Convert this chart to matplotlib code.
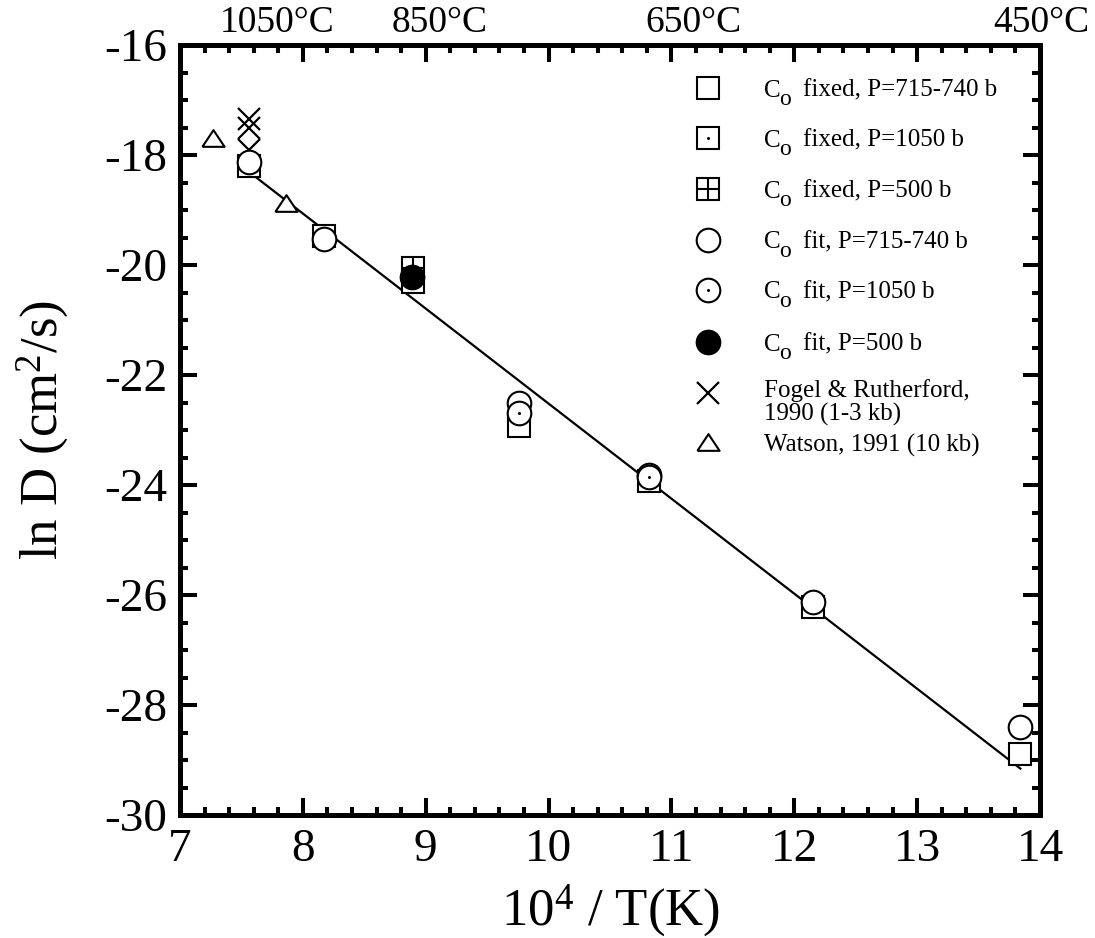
import matplotlib
matplotlib.use("Agg")
import matplotlib.pyplot as plt
from matplotlib.ticker import MultipleLocator
from matplotlib.transforms import blended_transform_factory
import numpy as np

plt.rcParams['font.family'] = ['Liberation Serif', 'DejaVu Serif']
plt.rcParams['mathtext.fontset'] = 'custom'
plt.rcParams['mathtext.rm'] = 'Liberation Serif'
plt.rcParams['mathtext.it'] = 'Liberation Serif:italic'
plt.rcParams['axes.unicode_minus'] = False

# ---- data: x = 10^4 / T(K), y = ln D (cm^2/s) ----
fixed_715_x = [7.56, 8.17, 8.90, 9.76, 12.15, 13.84]
fixed_715_y = [-18.20, -19.48, -20.30, -22.93, -26.22, -28.89]

fixed_1050_x = [10.82]
fixed_1050_y = [-23.93]

fixed_500_x = [8.90]
fixed_500_y = [-20.05]

fit_715_x = [7.56, 8.17, 9.76, 10.82, 12.15, 13.84]
fit_715_y = [-18.13, -19.53, -22.51, -23.82, -26.13, -28.40]

fit_1050_x = [9.76, 10.82]
fit_1050_y = [-22.69, -23.86]

fit_500_x = [8.89]
fit_500_y = [-20.22]

fogel_x = [7.56, 7.56, 7.56]
fogel_y = [-17.35, -17.50, -17.90]

watson_x = [7.27, 7.86]
watson_y = [-17.69, -18.87]

# Arrhenius fit: ln D = a + b * (10^4/T)
fit_a = -5.24
fit_b = -1.728
fit_xrange = [7.56, 13.84]

celsius_labels = ['1050\u00b0C', '850\u00b0C', '650\u00b0C', '450\u00b0C']
celsius_label_x = [7.79, 9.11, 11.18, 14.01]

# legend entries: (has C_o prefix, remaining text)
legend_entries = [
    (True, 'fixed, P=715-740 b'),
    (True, 'fixed, P=1050 b'),
    (True, 'fixed, P=500 b'),
    (True, 'fit, P=715-740 b'),
    (True, 'fit, P=1050 b'),
    (True, 'fit, P=500 b'),
    (False, 'Fogel & Rutherford,\n1990 (1-3 kb)'),
    (False, 'Watson, 1991 (10 kb)'),
]

# ---- styles ----
SQ = 15.8
CI = 17.0
EW = 1.5
tri_marker = [(-1, -0.75), (1, -0.75), (0, 0.75), (-1, -0.75)]

styles = {
    'fixed_715': [dict(marker='s', ms=SQ, mfc='white', mec='black', mew=EW)],
    'fixed_1050': [dict(marker='s', ms=SQ, mfc='white', mec='black', mew=EW),
                   dict(marker='o', ms=2.2, mfc='black', mec='black', mew=0)],
    'fixed_500': [dict(marker='s', ms=SQ, mfc='white', mec='black', mew=EW),
                  dict(marker='+', ms=SQ, mec='black', mew=EW)],
    'fit_715': [dict(marker='o', ms=CI, mfc='white', mec='black', mew=EW)],
    'fit_1050': [dict(marker='o', ms=CI, mfc='white', mec='black', mew=EW),
                 dict(marker='o', ms=2.2, mfc='black', mec='black', mew=0)],
    'fit_500': [dict(marker='o', ms=CI, mfc='black', mec='black', mew=EW)],
    'fogel': [dict(marker='x', ms=16, mec='black', mew=1.6)],
    'watson': [dict(marker=tri_marker, ms=16, mfc='white', mec='black', mew=EW)],
}

fig = plt.figure(figsize=(10.95, 9.38), dpi=100)
ax = fig.add_axes([0.1644, 0.1311, 0.7854, 0.8209])

# fitted line
lx = np.array(fit_xrange)
ax.plot(lx, fit_a + fit_b * lx, color='black', lw=1.6, zorder=2)

series = [
    ('fogel', fogel_x, fogel_y),
    ('watson', watson_x, watson_y),
    ('fixed_715', fixed_715_x, fixed_715_y),
    ('fixed_1050', fixed_1050_x, fixed_1050_y),
    ('fixed_500', fixed_500_x, fixed_500_y),
    ('fit_715', fit_715_x, fit_715_y),
    ('fit_1050', fit_1050_x, fit_1050_y),
    ('fit_500', fit_500_x, fit_500_y),
]
z = 3
for key, xs, ys in series:
    for st in styles[key]:
        ax.plot(xs, ys, ls='none', zorder=z, **st)
        z += 0.1

ax.set_xlim(7, 14)
ax.set_ylim(-30, -16)
ax.xaxis.set_major_locator(MultipleLocator(1))
ax.xaxis.set_minor_locator(MultipleLocator(0.2))
ax.yaxis.set_major_locator(MultipleLocator(2))
ax.yaxis.set_minor_locator(MultipleLocator(0.5))
ax.tick_params(which='both', direction='in', top=True, right=True,
               labelsize=34, width=2.9)
ax.tick_params(which='major', length=12, pad=10)
ax.tick_params(which='minor', length=6)
ax.tick_params(axis='y', pad=9)
for sp in ax.spines.values():
    sp.set_linewidth(3.6)

ax.set_xlabel(r'10$^{4}$ / T(K)', fontsize=38, labelpad=8)
ax.set_ylabel(r'ln D (cm$^{2}$/s)', fontsize=38, labelpad=24)

# temperature labels along the top
trans = blended_transform_factory(ax.transData, ax.transAxes)
for lab, xv in zip(celsius_labels, celsius_label_x):
    ax.text(xv, 1.006, lab, transform=trans, ha='center', va='bottom',
            fontsize=27, clip_on=False)

# legend
legend_keys = ['fixed_715', 'fixed_1050', 'fixed_500', 'fit_715',
               'fit_1050', 'fit_500', 'fogel', 'watson']
row_y = [0.944, 0.879, 0.813, 0.747, 0.682, 0.614, 0.548, 0.484]
mark_x = 0.614
text_x = 0.6795
LFS = 18
for key, (has_c, lab), ry in zip(legend_keys, legend_entries, row_y):
    for st in styles[key]:
        ax.plot([mark_x], [ry], ls='none', transform=ax.transAxes,
                clip_on=False, zorder=6, **st)
    if has_c:
        ax.annotate('C', xy=(text_x, ry), xycoords='axes fraction',
                    ha='left', va='center_baseline', fontsize=LFS)
        ax.annotate('o', xy=(text_x, ry), xycoords='axes fraction',
                    xytext=(10.8, -6.5), textcoords='offset points',
                    ha='left', va='center_baseline', fontsize=LFS - 1)
        ax.annotate(lab, xy=(text_x, ry), xycoords='axes fraction',
                    xytext=(28.0, 0), textcoords='offset points',
                    ha='left', va='center_baseline', fontsize=LFS)
    elif '\n' in lab:
        ax.text(text_x, ry + 0.018, lab, transform=ax.transAxes, ha='left',
                va='top', fontsize=LFS, linespacing=1.05)
    else:
        ax.text(text_x, ry, lab, transform=ax.transAxes, ha='left',
                va='center_baseline', fontsize=LFS)

fig.savefig('out.png', dpi=100)
